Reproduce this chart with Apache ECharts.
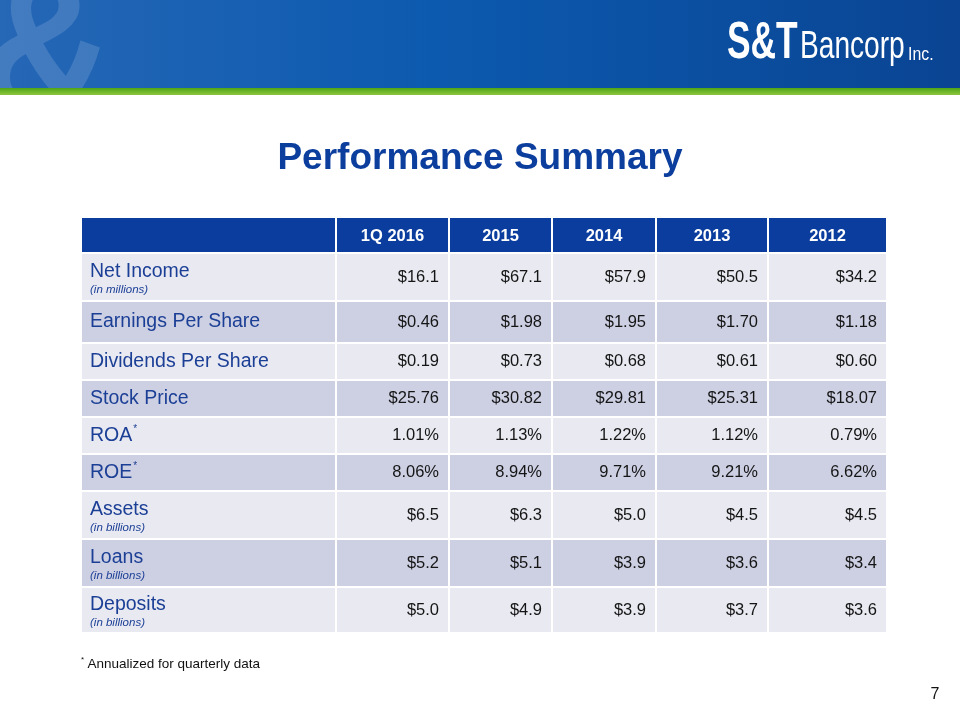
<!DOCTYPE html>
<html>
<head>
<meta charset="utf-8">
<script src="https://cdn.jsdelivr.net/npm/echarts@6/dist/echarts.min.js"></script>
<style>html,body{margin:0;padding:0;background:#fff}#c{width:960px;height:720px}</style>
</head>
<body>
<div id="c"></div>
<script>
// ---- data ----
const columns = ['1Q 2016', '2015', '2014', '2013', '2012'];
const metrics = ['Net Income', 'Earnings Per Share', 'Dividends Per Share', 'Stock Price', 'ROA', 'ROE', 'Assets', 'Loans', 'Deposits'];
const metricUnits = ['(in millions)', '', '', '', '', '', '(in billions)', '(in billions)', '(in billions)'];
const metricNotes = ['', '', '', '', '*', '*', '', '', ''];
const netIncome = [16.1, 67.1, 57.9, 50.5, 34.2];
const eps = [0.46, 1.98, 1.95, 1.70, 1.18];
const dividends = [0.19, 0.73, 0.68, 0.61, 0.60];
const stockPrice = [25.76, 30.82, 29.81, 25.31, 18.07];
const roa = [1.01, 1.13, 1.22, 1.12, 0.79];
const roe = [8.06, 8.94, 9.71, 9.21, 6.62];
const assets = [6.5, 6.3, 5.0, 4.5, 4.5];
const loans = [5.2, 5.1, 3.9, 3.6, 3.4];
const deposits = [5.0, 4.9, 3.9, 3.7, 3.6];
const footnote = 'Annualized for quarterly data';
const pageNumber = '7';

// ---- formatting / layout (style) ----
const seriesRows = [netIncome, eps, dividends, stockPrice, roa, roe, assets, loans, deposits];
const rowFormat = [['$', '', 1], ['$', '', 2], ['$', '', 2], ['$', '', 2], ['', '%', 2], ['', '%', 2], ['$', '', 1], ['$', '', 1], ['$', '', 1]];
const colW = [255, 113, 103, 104, 112, 119];
const rowH = [36, 48, 42, 37, 37, 37, 37, 48, 48, 46];
const colEdge = [0]; colW.forEach(w => colEdge.push(colEdge[colEdge.length - 1] + w));
const rowEdge = [0]; rowH.forEach(h => rowEdge.push(rowEdge[rowEdge.length - 1] + h));

const FONT = 'Arial, "Liberation Sans", Helvetica, sans-serif';
const HEAD = '#0B3D9E', LIGHT = '#E8E9F1', DARK = '#CDD0E3', LABEL = '#1C3F96', NUM = '#151515';

// build cell data
const cells = [];
for (let c = 0; c <= columns.length; c++) cells.push({ value: [c, 0], kind: 'head', text: c === 0 ? '' : columns[c - 1] });
metrics.forEach((m, i) => {
  const r = i + 1;
  cells.push({ value: [0, r], kind: 'label', text: m, unit: metricUnits[i], note: metricNotes[i] });
  seriesRows[i].forEach((v, j) => {
    const f = rowFormat[i];
    cells.push({ value: [j + 1, r], kind: 'num', text: f[0] + v.toFixed(f[2]) + f[1] });
  });
});

function renderItem(params, api) {
  const c = api.value(0), r = api.value(1);
  const d = cells[params.dataIndex];
  const p0 = api.coord([colEdge[c], rowEdge[r]]);
  const p1 = api.coord([colEdge[c + 1], rowEdge[r + 1]]);
  const x = p0[0], y = p0[1], w = p1[0] - p0[0], h = p1[1] - p0[1];
  const fill = r === 0 ? HEAD : (r % 2 === 1 ? LIGHT : DARK);
  const children = [{ type: 'rect', shape: { x: x, y: y, width: w, height: h }, style: { fill: fill, stroke: '#ffffff', lineWidth: 2 } }];
  const cy = y + h / 2;
  if (d.kind === 'head' && d.text) {
    children.push({ type: 'text', style: { text: d.text, x: x + w / 2, y: cy + 1, align: 'center', verticalAlign: 'middle', fill: '#ffffff', font: 'bold 16.5px ' + FONT } });
  } else if (d.kind === 'num') {
    children.push({ type: 'text', style: { text: d.text, x: x + w - 10, y: cy, align: 'right', verticalAlign: 'middle', fill: NUM, font: '16.5px ' + FONT } });
  } else if (d.kind === 'label') {
    const ty = d.unit ? cy - 5 : cy;
    if (d.note) {
      children.push({ type: 'text', style: { text: '{a|' + d.text + '}{s|' + d.note + '}', x: x + 9, y: ty, align: 'left', verticalAlign: 'middle',
        rich: { a: { fontSize: 19.5, fontFamily: FONT, fill: LABEL, lineHeight: 22 }, s: { fontSize: 10, fontFamily: FONT, fill: LABEL, verticalAlign: 'top', lineHeight: 22, padding: [0, 0, 0, 1] } } } });
    } else {
      children.push({ type: 'text', style: { text: d.text, x: x + 9, y: ty, align: 'left', verticalAlign: 'middle', fill: LABEL, font: '19.5px ' + FONT } });
    }
    if (d.unit) {
      children.push({ type: 'text', style: { text: d.unit, x: x + 9, y: cy + 13, align: 'left', verticalAlign: 'middle', fill: LABEL, font: 'italic 11.5px ' + FONT } });
    }
  }
  return { type: 'group', children: children };
}

const chart = echarts.init(document.getElementById('c'), null, { renderer: 'canvas' });
chart.setOption({
  animation: false,
  backgroundColor: '#ffffff',
  grid: { left: 81, top: 217, width: colEdge[colEdge.length - 1], height: rowEdge[rowEdge.length - 1] },
  xAxis: { type: 'value', min: 0, max: colEdge[colEdge.length - 1], show: false },
  yAxis: { type: 'value', min: 0, max: rowEdge[rowEdge.length - 1], inverse: true, show: false },
  series: [{ type: 'custom', z: 10, renderItem: renderItem, data: cells, clip: false }],
  graphic: [
    { type: 'rect', z: 1, shape: { x: 0, y: 0, width: 960, height: 89 },
      style: { fill: new echarts.graphic.LinearGradient(0, 0, 1, 0, [{ offset: 0, color: '#2667B6' }, { offset: 0.45, color: '#0C5AAF' }, { offset: 1, color: '#0A4493' }]) } },
    { type: 'text', z: 2, x: -22, y: 160, scaleX: 0.95, style: { text: '&', font: 'bold 200px ' + FONT, fill: 'rgba(255,255,255,0.14)', verticalAlign: 'bottom' } },
    { type: 'rect', z: 3, shape: { x: 0, y: 95, width: 960, height: 625 }, style: { fill: '#ffffff' } },
    { type: 'rect', z: 3, shape: { x: 0, y: 88, width: 960, height: 7 },
      style: { fill: new echarts.graphic.LinearGradient(0, 0, 0, 1, [{ offset: 0, color: '#4FA516' }, { offset: 1, color: '#8DC63F' }]) } },
    { type: 'text', z: 5, x: 727, y: 44, scaleX: 0.68, style: { text: 'S&T', font: 'bold 52px ' + FONT, fill: '#ffffff', verticalAlign: 'middle' } },
    { type: 'text', z: 5, x: 800, y: 48, scaleX: 0.74, style: { text: 'Bancorp', font: '38px ' + FONT, fill: '#ffffff', verticalAlign: 'middle' } },
    { type: 'text', z: 5, x: 908, y: 55, scaleX: 0.88, style: { text: 'Inc.', font: '18px ' + FONT, fill: '#ffffff', verticalAlign: 'middle' } },
    { type: 'text', z: 5, x: 480, y: 159, style: { text: 'Performance Summary', font: 'bold 37px ' + FONT, fill: '#0C3E9E', align: 'center', verticalAlign: 'middle' } },
    { type: 'text', z: 5, x: 81, y: 664, style: { text: '{s|*} {a|' + footnote + '}', verticalAlign: 'middle',
      rich: { a: { fontSize: 13.5, fontFamily: FONT, fill: '#111111', lineHeight: 16 }, s: { fontSize: 8, fontFamily: FONT, fill: '#111111', verticalAlign: 'top', lineHeight: 16 } } } },
    { type: 'text', z: 5, x: 935, y: 695, style: { text: pageNumber, font: '16px ' + FONT, fill: '#111111', align: 'center', verticalAlign: 'middle' } }
  ]
});
</script>
</body>
</html>
